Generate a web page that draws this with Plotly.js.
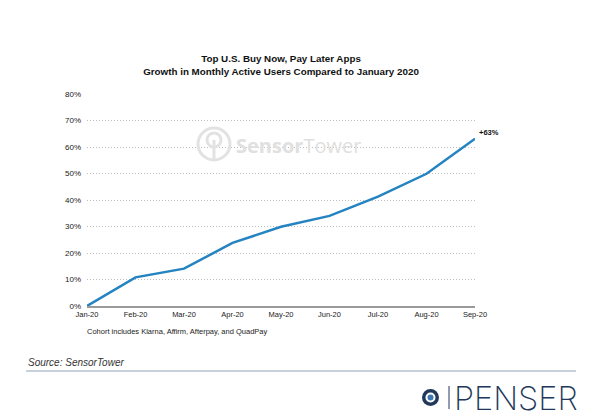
<!DOCTYPE html>
<html>
<head>
<meta charset="utf-8">
<script src="https://cdn.plot.ly/plotly-3.0.1.min.js"></script>
<style>html,body{margin:0;padding:0;background:#fff;}#chart{width:602px;height:417px;}</style>
</head>
<body>
<div id="chart"></div>
<script>
var months = ["Jan-20","Feb-20","Mar-20","Apr-20","May-20","Jun-20","Jul-20","Aug-20","Sep-20"];
var growth = [0, 10.8, 14.1, 23.8, 29.9, 34.0, 41.3, 49.9, 63.1];
var yTicks = [0, 10, 20, 30, 40, 50, 60, 70, 80];
var yTickText = ["0%","10%","20%","30%","40%","50%","60%","70%","80%"];
var endLabel = "+63%";

// plot area in pixels (for placing decorations)
var L = 87, R = 475, T = 94, B = 306;
function px(x){ return (x - L) / (R - L); }
function py(y){ return (B - y) / (B - T); }

var font = "Liberation Sans, Arial, sans-serif";

var trace = {
  x: months, y: growth, type: "scatter", mode: "lines",
  line: {color: "#2483c1", width: 2.5},
  hoverinfo: "skip"
};

var layout = {
  width: 602, height: 417,
  margin: {l: L, r: 602 - R, t: T, b: 417 - B},
  paper_bgcolor: "#fff", plot_bgcolor: "#fff",
  showlegend: false,
  font: {family: font, color: "#222"},
  title: {
    text: "<b>Top U.S. Buy Now, Pay Later Apps<br>Growth in Monthly Active Users Compared to January 2020</b>",
    font: {family: font, size: 9.8, color: "#111"},
    x: 281/602, xanchor: "center", y: 1 - 62/417, yanchor: "top"
  },
  xaxis: {
    type: "category", range: [0, months.length - 1],
    showgrid: false, zeroline: false,
    showline: true, linecolor: "#9a9a9a", linewidth: 2,
    ticks: "", tickfont: {family: font, size: 7.5, color: "#222"},
    fixedrange: true
  },
  yaxis: {
    range: [0, 80], tickvals: yTicks, ticktext: yTickText,
    showgrid: true, gridcolor: "#bdbdbd", griddash: "1px,2px", gridwidth: 1,
    zeroline: false, showline: false, ticks: "",
    ticklabelstandoff: 5,
    tickfont: {family: font, size: 8, color: "#222"},
    fixedrange: true
  },
  annotations: [
    {x: months[months.length-1], y: growth[growth.length-1], xref: "x", yref: "y",
     text: "<b>" + endLabel + "</b>", showarrow: false, xanchor: "left", yanchor: "middle",
     xshift: 2, yshift: 6, font: {family: font, size: 7.5, color: "#111"}},
    {x: px(85), y: py(331), xref: "paper", yref: "paper",
     text: "Cohort includes Klarna, Affirm, Afterpay, and QuadPay",
     showarrow: false, xanchor: "left", yanchor: "middle",
     font: {family: font, size: 7.5, color: "#222"}},
    {x: px(26), y: py(362), xref: "paper", yref: "paper",
     text: "<i>Source: SensorTower</i>",
     showarrow: false, xanchor: "left", yanchor: "middle",
     font: {family: font, size: 10, color: "#333"}},
    {x: px(234), y: py(145), xref: "paper", yref: "paper",
     text: "<b>Sensor</b>Tower", showarrow: false, xanchor: "left", yanchor: "middle",
     font: {family: "Open Sans, sans-serif", size: 20, color: "#e0e0e0"}},
    {x: px(452), y: py(398), xref: "paper", yref: "paper",
     text: "PENSER", showarrow: false, xanchor: "left", yanchor: "middle",
     font: {family: "Inter, sans-serif", size: 32.5, color: "#22385a", weight: 200}}
  ],
  shapes: [
    // horizontal rule under source
    {type: "line", xref: "paper", yref: "paper", x0: px(26), x1: px(576), y0: py(371), y1: py(371),
     line: {color: "#8fa4b8", width: 1}},
    // SensorTower watermark logo
    {type: "circle", xref: "paper", yref: "paper", x0: px(198), x1: px(230), y0: py(160), y1: py(128),
     line: {color: "#e2e2e2", width: 3}},
    {type: "circle", xref: "paper", yref: "paper", x0: px(207), x1: px(221), y0: py(147), y1: py(133),
     line: {color: "#e2e2e2", width: 3}},
    {type: "line", xref: "paper", yref: "paper", x0: px(214), x1: px(214), y0: py(140), y1: py(159),
     line: {color: "#e2e2e2", width: 3}},
    // PENSER logo mark
    {type: "line", xref: "paper", yref: "paper", x0: px(449), x1: px(449), y0: py(386), y1: py(409),
     line: {color: "#22385a", width: 1}},
    {type: "circle", xref: "paper", yref: "paper", x0: px(422), x1: px(439), y0: py(406), y1: py(389),
     fillcolor: "#22385a", line: {width: 0}},
    {type: "circle", xref: "paper", yref: "paper", x0: px(425.5), x1: px(435.5), y0: py(402.5), y1: py(392.5),
     fillcolor: "#ffffff", line: {width: 0}},
    {type: "circle", xref: "paper", yref: "paper", x0: px(427.5), x1: px(433.5), y0: py(400.5), y1: py(394.5),
     fillcolor: "#3d78b5", line: {width: 0}}
  ]
};

Plotly.newPlot("chart", [trace], layout, {displayModeBar: false, staticPlot: true});
</script>
</body>
</html>
